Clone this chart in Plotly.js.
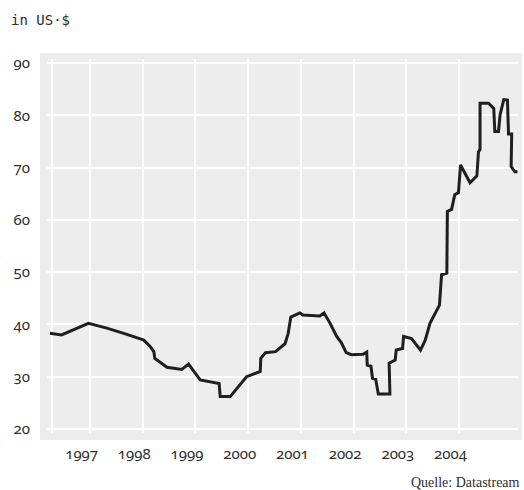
<!DOCTYPE html>
<html>
<head>
<meta charset="utf-8">
<script src="https://cdn.plot.ly/plotly-3.0.1.min.js"></script>
<style>
  html, body { margin: 0; padding: 0; background: #fff; }
  #chart { width: 524px; height: 490px; }
  .xtick text, .ytick text, .x2tick text, .x2tick, .ytick { font-feature-settings: "onum" 1; font-variant-numeric: oldstyle-nums; }
</style>
</head>
<body>
<div id="chart"></div>
<script>
// decimal years
const dates = [
  1996.24, 1996.46, 1996.97, 1997.32, 1997.70, 1998.02, 1998.14, 1998.21, 1998.23, 1998.46,
  1998.74, 1998.87, 1999.09, 1999.34, 1999.45, 1999.47, 1999.66, 1999.97, 2000.19, 2000.23,
  2000.24, 2000.33, 2000.52, 2000.70, 2000.76, 2000.81, 2000.98, 2001.04, 2001.36, 2001.44,
  2001.55, 2001.68, 2001.77, 2001.86, 2001.96, 2002.18, 2002.25, 2002.26, 2002.33, 2002.36,
  2002.42, 2002.47, 2002.69, 2002.675, 2002.79, 2002.81, 2002.93, 2002.95, 2003.10, 2003.27,
  2003.36, 2003.45, 2003.63, 2003.67, 2003.77, 2003.78, 2003.86, 2003.92, 2003.99, 2004.03,
  2004.21, 2004.34, 2004.37, 2004.40, 2004.40, 2004.56, 2004.66, 2004.68, 2004.75, 2004.78,
  2004.85, 2004.92, 2004.94, 2005.00, 2004.99, 2005.06, 2005.11
];
const prices = [
  38.3, 38.0, 40.2, 39.3, 38.1, 37.0, 35.8, 34.8, 33.5, 31.8,
  31.4, 32.4, 29.4, 29.0, 28.7, 26.2, 26.2, 30.0, 30.9, 31.0,
  33.5, 34.6, 34.8, 36.3, 38.3, 41.4, 42.2, 41.8, 41.6, 42.2,
  40.3, 37.7, 36.5, 34.6, 34.2, 34.3, 34.7, 32.2, 32.0, 29.7,
  29.5, 26.7, 26.7, 32.6, 33.2, 35.1, 35.4, 37.7, 37.3, 35.1,
  37.0, 40.2, 43.7, 49.5, 49.8, 61.6, 62.0, 64.8, 65.2, 70.5,
  67.1, 68.4, 73.0, 73.5, 82.3, 82.3, 81.3, 76.9, 76.9, 80.1,
  83.0, 82.9, 76.4, 76.4, 70.2, 69.2, 69.2
];
const yearLabels = ['1997', '1998', '1999', '2000', '2001', '2002', '2003', '2004'];
const gridYears = [1996.27, 1997, 1998, 1999, 2000, 2001, 2002, 2003, 2004];
const yTicks = [20, 30, 40, 50, 60, 70, 80, 90];

const labelPos = yearLabels.map(s => Number(s) - 0.16);
const xRange = [1996.184, 2005.12];
const tickFont = { family: '"Noto Sans", Lato, sans-serif', size: 15, color: '#2e2e2e' };

const traces = [
  {
    x: dates, y: prices, type: 'scatter', mode: 'lines',
    line: { color: '#1f1f1f', width: 3 },
    hoverinfo: 'skip', showlegend: false
  },
  { x: [], y: [], xaxis: 'x2', yaxis: 'y', type: 'scatter', mode: 'lines', showlegend: false }
];

const layout = {
  width: 524, height: 490,
  margin: { l: 47, r: 6, t: 59, b: 57 },
  paper_bgcolor: '#ffffff',
  plot_bgcolor: 'rgba(0,0,0,0)',
  showlegend: false,
  xaxis: {
    range: xRange, tickmode: 'array', tickvals: gridYears, showticklabels: false,
    showgrid: true, gridcolor: '#ffffff', gridwidth: 2, zeroline: false, showline: false, ticks: '',
    fixedrange: true
  },
  xaxis2: {
    overlaying: 'x', anchor: 'y', side: 'bottom', range: xRange,
    tickmode: 'array', tickvals: labelPos, ticktext: yearLabels,
    showgrid: false, zeroline: false, showline: false, ticks: '',
    tickfont: tickFont, ticklabelstandoff: 10, fixedrange: true
  },
  yaxis: {
    range: [19.235, 90.765], tickmode: 'array', tickvals: yTicks,
    showgrid: true, gridcolor: '#ffffff', gridwidth: 2, zeroline: false, showline: false, ticks: '',
    tickfont: tickFont, ticklabelstandoff: 16, fixedrange: true
  },
  shapes: [{
    type: 'rect', xref: 'paper', yref: 'paper', layer: 'below',
    x0: -0.0149, x1: 1.0085, y0: -0.0187, y1: 1.016,
    fillcolor: '#ededed', line: { width: 0 }
  }],
  annotations: [
    {
      text: 'in US·$', xref: 'paper', yref: 'paper', x: -0.081, y: 1.104,
      xanchor: 'left', yanchor: 'middle', showarrow: false,
      font: { family: '"DejaVu Sans Mono", monospace', size: 14, color: '#2e2e2e' }
    },
    {
      text: 'Quelle: Datastream', xref: 'paper', yref: 'paper', x: 1.008, y: -0.133,
      xanchor: 'right', yanchor: 'middle', showarrow: false,
      font: { family: '"Liberation Serif", serif', size: 14, color: '#2e2e2e' }
    }
  ]
};

Plotly.newPlot('chart', traces, layout, { displayModeBar: false, staticPlot: true });
</script>
</body>
</html>
